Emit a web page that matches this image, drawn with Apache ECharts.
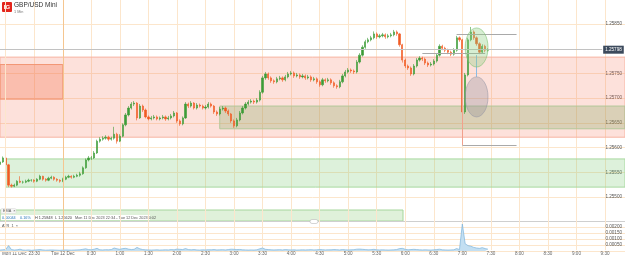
<!DOCTYPE html>
<html><head><meta charset="utf-8">
<script src="https://cdn.jsdelivr.net/npm/echarts@6/dist/echarts.min.js"></script>
<style>html,body{margin:0;padding:0;background:#fff}#c{width:625px;height:257px}</style>
</head><body><div id="c"></div>
<script>
// ---- axis / categories ----
const startTime = [22, 54];
const stepMinutes = 3;
const categoryCount = 220;
const dayLabels = {'23:00': 'Mon 11 Dec', '0:00': 'Tue 12 Dec'};
const priceTicks = [1.255, 1.2585, 0.0005];
const atrTicks = [0, 0.002, 0.0005];

// ---- 3-minute candles (GBP/USD Mini) ----
const opens = [1.25566,1.25571,1.25579,1.25565,1.25524,1.25522,1.25524,1.25532,1.25530,1.25530,
1.25532,1.25534,1.25534,1.25532,1.25536,1.25542,1.25536,1.25534,1.25538,1.25540,
1.25536,1.25534,1.25532,1.25536,1.25540,1.25542,1.25540,1.25542,1.25544,1.25547,
1.25559,1.25575,1.25579,1.25579,1.25589,1.25613,1.25617,1.25619,1.25621,1.25617,
1.25619,1.25627,1.25613,1.25623,1.25646,1.25666,1.25680,1.25688,1.25690,1.25660,
1.25684,1.25676,1.25662,1.25658,1.25660,1.25662,1.25658,1.25660,1.25662,1.25658,
1.25660,1.25664,1.25670,1.25654,1.25648,1.25660,1.25688,1.25684,1.25690,1.25680,
1.25686,1.25684,1.25680,1.25682,1.25688,1.25684,1.25672,1.25668,1.25678,1.25680,
1.25674,1.25668,1.25654,1.25644,1.25656,1.25670,1.25680,1.25688,1.25692,1.25694,
1.25692,1.25696,1.25712,1.25741,1.25749,1.25741,1.25735,1.25733,1.25739,1.25741,
1.25737,1.25743,1.25749,1.25751,1.25745,1.25747,1.25743,1.25745,1.25741,1.25743,
1.25737,1.25739,1.25733,1.25727,1.25737,1.25735,1.25737,1.25731,1.25725,1.25723,
1.25733,1.25745,1.25753,1.25757,1.25755,1.25753,1.25773,1.25787,1.25803,1.25814,
1.25818,1.25822,1.25830,1.25824,1.25826,1.25828,1.25824,1.25826,1.25828,1.25834,
1.25830,1.25808,1.25777,1.25765,1.25761,1.25749,1.25765,1.25777,1.25781,1.25779,
1.25771,1.25767,1.25769,1.25775,1.25787,1.25805,1.25801,1.25797,1.25793,1.25789,
1.25797,1.25822,1.25818,1.25672,1.25747,1.25818,1.25834,1.25822,1.25810,1.25793,
1.25805,1.25797];
const highs = [1.25575,1.25582,1.25581,1.25567,1.25527,1.25527,1.25534,1.25542,1.25533,1.25535,
1.25537,1.25536,1.25536,1.25538,1.25545,1.25543,1.25538,1.25541,1.25543,1.25542,
1.25538,1.25536,1.25539,1.25543,1.25545,1.25544,1.25545,1.25547,1.25551,1.25562,
1.25578,1.25583,1.25583,1.25593,1.25616,1.25621,1.25623,1.25625,1.25624,1.25622,
1.25642,1.25630,1.25627,1.25649,1.25670,1.25684,1.25692,1.25694,1.25692,1.25688,
1.25687,1.25679,1.25665,1.25664,1.25666,1.25665,1.25663,1.25666,1.25665,1.25664,
1.25668,1.25674,1.25672,1.25657,1.25663,1.25692,1.25691,1.25694,1.25692,1.25690,
1.25689,1.25687,1.25686,1.25692,1.25691,1.25686,1.25675,1.25682,1.25684,1.25683,
1.25677,1.25670,1.25657,1.25660,1.25674,1.25684,1.25692,1.25696,1.25698,1.25697,
1.25700,1.25716,1.25745,1.25753,1.25752,1.25744,1.25738,1.25743,1.25745,1.25744,
1.25747,1.25753,1.25755,1.25754,1.25751,1.25750,1.25749,1.25748,1.25747,1.25746,
1.25743,1.25742,1.25736,1.25741,1.25740,1.25741,1.25740,1.25734,1.25728,1.25737,
1.25749,1.25757,1.25761,1.25760,1.25758,1.25777,1.25791,1.25807,1.25818,1.25822,
1.25826,1.25835,1.25833,1.25830,1.25832,1.25831,1.25830,1.25832,1.25838,1.25837,
1.25832,1.25810,1.25780,1.25768,1.25764,1.25769,1.25781,1.25785,1.25784,1.25782,
1.25774,1.25773,1.25779,1.25791,1.25809,1.25808,1.25804,1.25800,1.25796,1.25801,
1.25826,1.25825,1.25820,1.25751,1.25822,1.25844,1.25837,1.25825,1.25813,1.25809,
1.25808,1.25801];
const lows = [1.25563,1.25569,1.25562,1.25520,1.25519,1.25520,1.25522,1.25528,1.25527,1.25528,
1.25530,1.25531,1.25529,1.25530,1.25534,1.25533,1.25531,1.25532,1.25536,1.25533,
1.25531,1.25529,1.25530,1.25534,1.25538,1.25537,1.25538,1.25540,1.25541,1.25545,
1.25557,1.25572,1.25575,1.25577,1.25587,1.25610,1.25614,1.25616,1.25613,1.25614,
1.25616,1.25608,1.25611,1.25621,1.25643,1.25663,1.25677,1.25684,1.25655,1.25658,
1.25672,1.25659,1.25655,1.25655,1.25657,1.25655,1.25655,1.25657,1.25654,1.25655,
1.25657,1.25661,1.25650,1.25644,1.25645,1.25658,1.25680,1.25681,1.25677,1.25677,
1.25681,1.25677,1.25677,1.25679,1.25681,1.25668,1.25664,1.25665,1.25675,1.25670,
1.25664,1.25650,1.25640,1.25641,1.25653,1.25667,1.25677,1.25685,1.25689,1.25688,
1.25689,1.25693,1.25709,1.25737,1.25737,1.25731,1.25729,1.25730,1.25736,1.25733,
1.25734,1.25740,1.25746,1.25741,1.25742,1.25739,1.25740,1.25737,1.25738,1.25733,
1.25734,1.25729,1.25723,1.25724,1.25731,1.25732,1.25727,1.25721,1.25719,1.25720,
1.25730,1.25742,1.25750,1.25751,1.25749,1.25750,1.25770,1.25784,1.25800,1.25811,
1.25815,1.25819,1.25820,1.25821,1.25823,1.25820,1.25821,1.25823,1.25825,1.25826,
1.25804,1.25772,1.25761,1.25757,1.25745,1.25746,1.25762,1.25774,1.25775,1.25767,
1.25763,1.25764,1.25766,1.25772,1.25784,1.25797,1.25793,1.25789,1.25785,1.25786,
1.25794,1.25814,1.25660,1.25668,1.25744,1.25815,1.25818,1.25806,1.25789,1.25790,
1.25793,1.25794];
const closes = [1.25571,1.25579,1.25565,1.25524,1.25522,1.25524,1.25532,1.25530,1.25530,1.25532,
1.25534,1.25534,1.25532,1.25536,1.25542,1.25536,1.25534,1.25538,1.25540,1.25536,
1.25534,1.25532,1.25536,1.25540,1.25542,1.25540,1.25542,1.25544,1.25547,1.25559,
1.25575,1.25579,1.25579,1.25589,1.25613,1.25617,1.25619,1.25621,1.25617,1.25619,
1.25627,1.25613,1.25623,1.25646,1.25666,1.25680,1.25688,1.25690,1.25660,1.25684,
1.25676,1.25662,1.25658,1.25660,1.25662,1.25658,1.25660,1.25662,1.25658,1.25660,
1.25664,1.25670,1.25654,1.25648,1.25660,1.25688,1.25684,1.25690,1.25680,1.25686,
1.25684,1.25680,1.25682,1.25688,1.25684,1.25672,1.25668,1.25678,1.25680,1.25674,
1.25668,1.25654,1.25644,1.25656,1.25670,1.25680,1.25688,1.25692,1.25694,1.25692,
1.25696,1.25712,1.25741,1.25749,1.25741,1.25735,1.25733,1.25739,1.25741,1.25737,
1.25743,1.25749,1.25751,1.25745,1.25747,1.25743,1.25745,1.25741,1.25743,1.25737,
1.25739,1.25733,1.25727,1.25737,1.25735,1.25737,1.25731,1.25725,1.25723,1.25733,
1.25745,1.25753,1.25757,1.25755,1.25753,1.25773,1.25787,1.25803,1.25814,1.25818,
1.25822,1.25830,1.25824,1.25826,1.25828,1.25824,1.25826,1.25828,1.25834,1.25830,
1.25808,1.25777,1.25765,1.25761,1.25749,1.25765,1.25777,1.25781,1.25779,1.25771,
1.25767,1.25769,1.25775,1.25787,1.25805,1.25801,1.25797,1.25793,1.25789,1.25797,
1.25822,1.25818,1.25672,1.25747,1.25818,1.25834,1.25822,1.25810,1.25793,1.25805,
1.25797,1.25798];

// ---- ATR(1) ----
const atr = [0.00008,0.00010,0.00012,0.00045,0.00012,0.00008,0.00010,0.00015,
0.00008,0.00007,0.00009,0.00006,0.00008,0.00010,0.00012,0.00009,0.00007,0.00008,0.00009,0.00008,0.00007,0.00006,0.00008,0.00009,0.00008,0.00007,0.00008,0.00009,0.00010,
0.00014,0.00018,0.00012,0.00010,0.00015,0.00022,
0.00010,0.00009,0.00011,0.00010,0.00012,0.00025,0.00018,0.00014,0.00020,0.00022,0.00016,0.00012,0.00014,
0.00030,
0.00018,0.00012,0.00010,0.00009,0.00008,0.00009,0.00010,0.00008,0.00009,0.00010,0.00009,0.00012,0.00010,0.00016,0.00014,0.00012,
0.00020,0.00012,0.00010,0.00012,0.00009,0.00008,0.00010,0.00009,0.00011,0.00010,0.00012,0.00009,0.00010,0.00011,0.00009,0.00012,0.00015,0.00014,0.00012,0.00013,0.00010,0.00009,0.00008,0.00009,0.00008,0.00010,
0.00018,0.00025,0.00014,
0.00012,0.00010,0.00009,0.00010,0.00011,0.00009,0.00012,0.00010,0.00009,0.00010,0.00008,0.00009,0.00010,0.00009,0.00010,0.00011,0.00009,0.00010,0.00012,0.00011,0.00009,0.00010,0.00010,0.00012,0.00011,0.00009,0.00012,0.00010,0.00009,0.00010,0.00011,
0.00015,0.00016,0.00014,0.00012,0.00010,0.00011,0.00014,
0.00010,0.00009,0.00010,0.00009,0.00008,0.00009,0.00010,0.00012,
0.00020,0.00022,0.00014,0.00010,0.00012,
0.00014,0.00012,0.00010,0.00009,0.00010,0.00009,0.00008,0.00010,0.00012,0.00015,0.00010,0.00009,0.00008,0.00009,0.00010,0.00020,0.00012,
0.00225,0.00060,0.00045,0.00040,
0.00030,0.00025,0.00022,0.00028,0.00020,0.00015];

// ---- drawings (data coordinates) ----
const currentPrice = 1.25798;
const pinkZone = [1.25783, 1.25621];
const orangeBox = {from: 0, to: 22, top: 1.25768, bottom: 1.25698};
const oliveZone = {from: 77, top: 1.25684, bottom: 1.25638};
const greenZone = {from: 2, top: 1.25577, bottom: 1.25520};
const hLines = [
  {from: 160, to: 181, price: 1.25829},
  {from: 162, to: 181, price: 1.25605},
  {from: 148, to: 170, price: 1.25791}
];
const pinkVLine = {at: 162, top: 1.25797, bottom: 1.25605};
const blueVLine = {at: 167, top: 1.25787, bottom: 1.25743};
const upperEllipse = {x: [163, 171], y: [1.25842, 1.25763]};
const lowerEllipse = {x: [162.6, 171], y: [1.25743, 1.25662]};

// ---- build ----
const FONT = 'Liberation Sans';
const cats = [];
for (let i = 0; i < categoryCount; i++) {
  const m = (startTime[0] * 60 + startTime[1] + i * stepMinutes) % 1440;
  cats.push(Math.floor(m / 60) + ':' + String(m % 60).padStart(2, '0'));
}
const shown = i => /:(00|30)$/.test(cats[i]);
const candleData = closes.map((c, i) => [opens[i], c, lows[i], highs[i]]);
const GRID_C = '#fce6cc';
// one colour per price tick (1.25500 ... 1.25850); the 1.25800 line is the current-price line
const priceGridColors = [GRID_C, GRID_C, GRID_C, GRID_C, GRID_C, GRID_C, 'rgba(0,0,0,0)', GRID_C];

const chart = echarts.init(document.getElementById('c'));
chart.setOption({
  animation: false,
  backgroundColor: '#fff',
  title: {text: 'GBP/USD Mini', subtext: '1 Min', left: 14, top: 2, itemGap: 1, padding: 0,
    textStyle: {fontSize: 6.5, fontWeight: 'normal', color: '#333', fontFamily: FONT},
    subtextStyle: {fontSize: 3.8, color: '#777', fontFamily: FONT}},
  grid: [
    {left: 0, right: 0, top: 0, bottom: 7},
    {left: 0, right: 0, top: 24, bottom: 60},
    {left: 0, right: 0, top: 227, bottom: 6}
  ],
  xAxis: [
    {type: 'category', gridIndex: 0, data: cats, boundaryGap: false,
      axisLine: {show: false}, axisTick: {show: false},
      axisLabel: {interval: i => shown(i), formatter: v => v === '23:00' ? '' : (dayLabels[v] || v),
        fontSize: 4.6, color: '#666', margin: 1.5, fontFamily: FONT},
      splitLine: {show: true, interval: i => shown(i), lineStyle: {color: GRID_C, width: 1}}},
    {type: 'category', gridIndex: 1, data: cats, boundaryGap: false, show: false},
    {type: 'category', gridIndex: 2, data: cats, boundaryGap: false, show: false}
  ],
  yAxis: [
    {type: 'value', gridIndex: 0, show: false, min: 0, max: 1},
    {type: 'value', gridIndex: 1, min: priceTicks[0], max: priceTicks[1], interval: priceTicks[2],
      position: 'right', axisLine: {show: false}, axisTick: {show: false},
      axisLabel: {inside: true, margin: 3, fontSize: 4.6, color: '#555', fontFamily: FONT,
        formatter: v => Math.abs(v - 1.258) < 1e-9 ? '' : v.toFixed(5)},
      splitLine: {lineStyle: {color: priceGridColors}}},
    {type: 'value', gridIndex: 2, min: atrTicks[0], max: atrTicks[1], interval: atrTicks[2],
      position: 'right', axisLine: {show: false}, axisTick: {show: false},
      axisLabel: {inside: true, margin: 3, fontSize: 4.6, color: '#555', fontFamily: FONT,
        formatter: v => v === 0 ? '' : v.toFixed(5)},
      splitLine: {lineStyle: {color: GRID_C}}}
  ],
  series: [
    {type: 'line', xAxisIndex: 0, yAxisIndex: 0, data: ['-'], symbol: 'none', silent: true,
      markLine: {symbol: 'none', silent: true, label: {show: false},
        lineStyle: {type: 'solid', width: 1},
        data: [{xAxis: '0:00', lineStyle: {color: '#f5c690'}}, {xAxis: '23:00', lineStyle: {color: GRID_C}}]}},
    {type: 'candlestick', xAxisIndex: 1, yAxisIndex: 1, data: candleData, barWidth: 1.7,
      itemStyle: {color: '#3d9c38', color0: '#f15a22', borderColor: '#3d9c38', borderColor0: '#f15a22', borderWidth: 0.6},
      markArea: {silent: true, data: [
        [{yAxis: pinkZone[0], itemStyle: {color: 'rgba(248,120,90,0.22)', borderColor: '#f7b4a2', borderWidth: 1}}, {yAxis: pinkZone[1]}],
        [{xAxis: orangeBox.from, yAxis: orangeBox.top, itemStyle: {color: 'rgba(245,110,70,0.3)', borderColor: '#f29574', borderWidth: 1}}, {xAxis: orangeBox.to, yAxis: orangeBox.bottom}],
        [{xAxis: oliveZone.from, yAxis: oliveZone.top, itemStyle: {color: 'rgba(130,165,90,0.28)', borderColor: '#b3c79a', borderWidth: 1}}, {xAxis: categoryCount - 1, yAxis: oliveZone.bottom}],
        [{xAxis: greenZone.from, yAxis: greenZone.top, itemStyle: {color: 'rgba(120,200,110,0.25)', borderColor: '#a6d89e', borderWidth: 1}}, {xAxis: categoryCount - 1, yAxis: greenZone.bottom}]
      ]},
      markLine: {symbol: 'none', silent: true, label: {show: false},
        lineStyle: {color: '#a9a9a9', type: 'solid', width: 1},
        data: [
          [{coord: [0, currentPrice], lineStyle: {color: '#c2c2c2'},
            label: {show: true, position: 'end', distance: 1, formatter: currentPrice.toFixed(5),
              backgroundColor: '#3c4a5c', color: '#fff', fontSize: 4.6, fontFamily: FONT, padding: [1.5, 2]}},
           {coord: [211, currentPrice]}],
          ...hLines.map(l => [{coord: [l.from, l.price]}, {coord: [l.to, l.price]}]),
          [{coord: [pinkVLine.at, pinkVLine.top], lineStyle: {color: '#f2a08c'}}, {coord: [pinkVLine.at, pinkVLine.bottom]}],
          [{coord: [blueVLine.at, blueVLine.top], lineStyle: {color: '#8bbbe3'}}, {coord: [blueVLine.at, blueVLine.bottom]}]
        ]}},
    {type: 'line', xAxisIndex: 2, yAxisIndex: 2, data: atr, symbol: 'none', clip: false,
      lineStyle: {color: '#7db3da', width: 0.7}, areaStyle: {color: '#c3dff2', opacity: 1}}
  ],
  graphic: [
    {id: 'logo', type: 'rect', shape: {x: 2, y: 2, width: 10, height: 10, r: 1}, style: {fill: '#e4261c'}},
    {id: 'logoT', type: 'text', x: 7, y: 7, style: {text: 'IG', fill: '#fff', font: 'bold 6px ' + FONT, align: 'center', verticalAlign: 'middle'}},
    {id: 'emaBox', type: 'rect', shape: {x: 0, y: 210, width: 403, height: 11}, style: {fill: '#dff1da', stroke: '#a6d69c', lineWidth: 1}},
    {id: 'emaTag', type: 'rect', shape: {x: 1, y: 208.5, width: 15, height: 5, r: 1}, style: {fill: '#f6f6f6', stroke: '#d6d6d6', lineWidth: 0.5}},
    {id: 'emaT', type: 'text', x: 3, y: 211, style: {text: 'EMA  \u00d7', fill: '#555', font: '3.8px ' + FONT, verticalAlign: 'middle'}},
    {id: 'infoBg', type: 'rect', shape: {x: 1, y: 215, width: 149, height: 5}, style: {fill: '#fff'}},
    {id: 'info1', type: 'text', x: 2, y: 217.6, style: {text: '0.00044', fill: '#2a78b8', font: '3.8px ' + FONT, verticalAlign: 'middle'}},
    {id: 'info2', type: 'text', x: 20, y: 217.6, style: {text: '0.16%', fill: '#2a78b8', font: '3.8px ' + FONT, verticalAlign: 'middle'}},
    {id: 'info3', type: 'text', x: 35, y: 217.6, style: {text: 'H 1.25848', fill: '#444', font: '3.8px ' + FONT, verticalAlign: 'middle'}},
    {id: 'info4', type: 'text', x: 55, y: 217.6, style: {text: 'L 1.25620', fill: '#444', font: '3.8px ' + FONT, verticalAlign: 'middle'}},
    {id: 'info5', type: 'text', x: 75, y: 217.6, style: {text: 'Mon 11 Dec 2023 22:34 - Tue 12 Dec 2023 0:02', fill: '#555', font: '3.8px ' + FONT, verticalAlign: 'middle'}},
    {id: 'sep', type: 'rect', shape: {x: 0, y: 221, width: 625, height: 1}, style: {fill: '#cfcfcf'}},
    {id: 'handle', type: 'rect', shape: {x: 310, y: 219.5, width: 8, height: 4, r: 2}, style: {fill: '#fff', stroke: '#b9b9b9', lineWidth: 0.6}},
    {id: 'atrT', type: 'text', x: 2, y: 226, style: {text: 'ATR  1  \u00d7', fill: '#555', font: '3.8px ' + FONT, verticalAlign: 'middle'}},
    {id: 'dayT', type: 'text', x: 2, y: 253.5, style: {text: dayLabels['23:00'], fill: '#666', font: '4.6px ' + FONT, verticalAlign: 'middle'}}
  ]
});

function ellipseFrom(e) {
  const a = chart.convertToPixel({xAxisIndex: 1, yAxisIndex: 1}, [e.x[0], e.y[0]]);
  const b = chart.convertToPixel({xAxisIndex: 1, yAxisIndex: 1}, [e.x[1], e.y[1]]);
  return {cx: (a[0] + b[0]) / 2, cy: (a[1] + b[1]) / 2, rx: Math.abs(b[0] - a[0]) / 2, ry: Math.abs(b[1] - a[1]) / 2};
}
chart.setOption({graphic: [
  {id: 'ellUp', type: 'ellipse', z: 10, shape: ellipseFrom(upperEllipse), style: {fill: 'rgba(140,205,130,0.35)', stroke: 'rgba(120,190,110,0.7)', lineWidth: 0.8}},
  {id: 'ellLo', type: 'ellipse', z: 10, shape: ellipseFrom(lowerEllipse), style: {fill: 'rgba(140,135,150,0.3)', stroke: 'rgba(150,150,165,0.7)', lineWidth: 0.8}}
]});
</script>
</body></html>
